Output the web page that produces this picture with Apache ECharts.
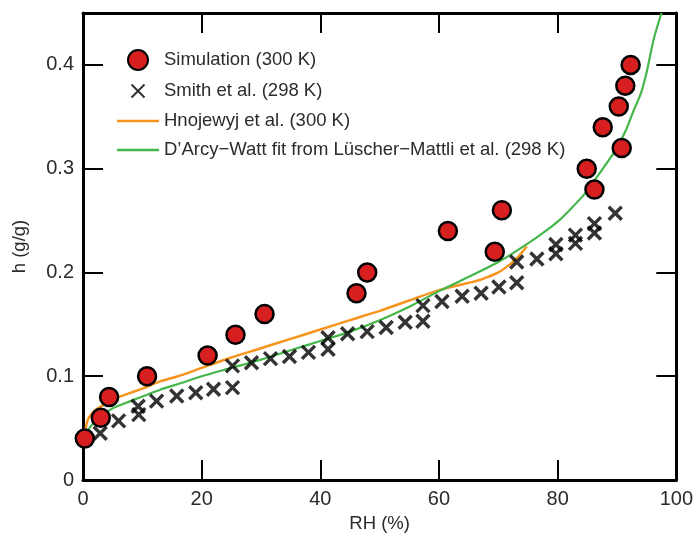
<!DOCTYPE html>
<html>
<head>
<meta charset="utf-8">
<script src="https://cdn.jsdelivr.net/npm/echarts@6/dist/echarts.min.js"></script>
<style>html,body{margin:0;padding:0;background:#fff}#c{width:696px;height:539px}</style>
</head>
<body>
<div id="c"></div>
<script>
// Simulation (300 K): [RH %, h g/g]
const simulation = [[0.3,0.040],[3.0,0.060],[4.4,0.080],[10.8,0.100],[21.0,0.120],[25.7,0.140],[30.6,0.160],[46.1,0.180],[47.9,0.200],[61.5,0.240],[69.4,0.220],[70.6,0.260],[84.9,0.300],[86.2,0.280],[87.6,0.340],[90.3,0.360],[90.8,0.320],[91.4,0.380],[92.3,0.400]];
// Smith et al. (298 K)
const smith = [[2.9,0.045],[6.0,0.057],[9.4,0.063],[9.3,0.071],[12.4,0.076],[15.8,0.081],[19.0,0.084],[22.0,0.0875],[25.2,0.089],[25.2,0.110],[28.4,0.113],[31.6,0.117],[34.8,0.119],[38.0,0.123],[41.3,0.126],[41.3,0.137],[44.6,0.141],[47.9,0.143],[51.1,0.147],[54.3,0.152],[57.3,0.153],[57.3,0.168],[60.5,0.172],[63.9,0.177],[67.1,0.180],[70.1,0.186],[73.1,0.190],[73.1,0.210],[76.5,0.213],[79.7,0.218],[79.7,0.227],[83.0,0.228],[83.0,0.236],[86.2,0.238],[86.2,0.247],[89.7,0.257]];
// Hnojewyj et al. (300 K)
const hnojewyj = [[0.3,0.045],[0.8,0.058],[1.5,0.064],[2.5,0.069],[4,0.074],[6,0.080],[8,0.084],[10,0.088],[13,0.095],[16,0.100],[20,0.108],[25,0.118],[30,0.127],[35,0.136],[40,0.145],[45,0.154],[50,0.163],[55,0.173],[60,0.183],[65,0.190],[67,0.193],[70,0.200],[72,0.208],[73,0.213],[74.8,0.225]];
// D'Arcy-Watt fit (298 K)
const darcyWatt = [[0.3,0.040],[1.2,0.051],[2.9,0.061],[5,0.069],[8,0.076],[10.7,0.082],[13,0.087],[16.3,0.093],[20,0.100],[25,0.108],[30,0.116],[35,0.125],[40,0.134],[45,0.143],[50,0.154],[55,0.167],[60,0.182],[64,0.193],[70,0.210],[75,0.228],[78,0.240],[80.2,0.250],[82,0.260],[84.3,0.274],[86,0.287],[88.6,0.308],[90,0.320],[91.5,0.337],[92.8,0.356],[94,0.372],[95,0.393],[96.2,0.425],[97.5,0.450]];
const xTicks = {min:0, max:100, interval:20};
const yTicks = {min:0, max:0.45, interval:0.1};
const seriesNames = ['Simulation (300 K)','Smith et al. (298 K)','Hnojewyj et al. (300 K)','D\u2019Arcy\u2212Watt fit from Lüscher\u2212Mattli et al. (298 K)'];

const txt = '#2b2b2b';
const font = 'Liberation Sans, Arial, Helvetica, sans-serif';
const frameLine = {show:true, onZero:false, lineStyle:{color:'#000', width:3}};
const tick = {show:true, inside:true, length:20, lineStyle:{color:'#000', width:2}};
const lineIcon = 'path://M0,0M42,20M0,8.7L42,8.7L42,11.3L0,11.3Z';
const chart = echarts.init(document.getElementById('c'));
chart.setOption({
  animation:false,
  textStyle:{fontFamily:font, color:txt},
  grid:{left:83, right:19, top:13, bottom:59},
  legend:{
    orient:'vertical', left:112, top:44, itemWidth:42, itemHeight:20, itemGap:9, itemTextGap:11,
    textStyle:{fontSize:18.5, color:txt, fontFamily:font},
    data:[
      {name:seriesNames[0]},
      {name:seriesNames[1]},
      {name:seriesNames[2], icon:lineIcon},
      {name:seriesNames[3], icon:lineIcon}
    ]
  },
  xAxis:[{
    type:'value', min:xTicks.min, max:xTicks.max, interval:xTicks.interval,
    name:'RH (%)', nameLocation:'middle', nameGap:34,
    nameTextStyle:{fontSize:18.5, color:txt, fontFamily:font},
    axisLine:frameLine, axisTick:tick, splitLine:{show:false},
    axisLabel:{fontSize:20, color:txt, margin:9, fontFamily:font}
  },{
    type:'value', position:'top', min:xTicks.min, max:xTicks.max, interval:xTicks.interval,
    axisLine:frameLine, axisTick:tick, splitLine:{show:false}, axisLabel:{show:false}
  }],
  yAxis:[{
    type:'value', min:yTicks.min, max:yTicks.max, interval:yTicks.interval,
    name:'h (g/g)', nameLocation:'middle', nameGap:54,
    nameTextStyle:{fontSize:18.5, color:txt, fontFamily:font},
    axisLine:frameLine, axisTick:tick, splitLine:{show:false},
    axisLabel:{fontSize:20, color:txt, margin:9, showMaxLabel:false, fontFamily:font}
  },{
    type:'value', position:'right', min:yTicks.min, max:yTicks.max, interval:yTicks.interval,
    axisLine:frameLine, axisTick:tick, splitLine:{show:false}, axisLabel:{show:false}
  }],
  series:[
    {name:seriesNames[2], type:'line', data:hnojewyj, smooth:0.3, symbol:'none', showSymbol:false,
     lineStyle:{color:'#f7941d', width:2.5}, itemStyle:{color:'#f7941d'}, z:2},
    {name:seriesNames[3], type:'line', data:darcyWatt, smooth:0.3, symbol:'none', showSymbol:false,
     lineStyle:{color:'#45b649', width:2.2}, itemStyle:{color:'#45b649'}, z:2},
    {name:seriesNames[1], type:'scatter', data:smith,
     symbol:'path://M0,0M20,20M3.5,3.5L16.5,16.5M16.5,3.5L3.5,16.5', symbolSize:20,
     itemStyle:{color:'rgba(0,0,0,0)', borderColor:'#000', borderWidth:3.4}, z:3},
    {name:seriesNames[0], type:'scatter', data:simulation, symbol:'circle', symbolSize:18,
     itemStyle:{color:'#d71f1f', borderColor:'#000', borderWidth:2.5, opacity:1}, z:4}
  ]
});
</script>
</body>
</html>
